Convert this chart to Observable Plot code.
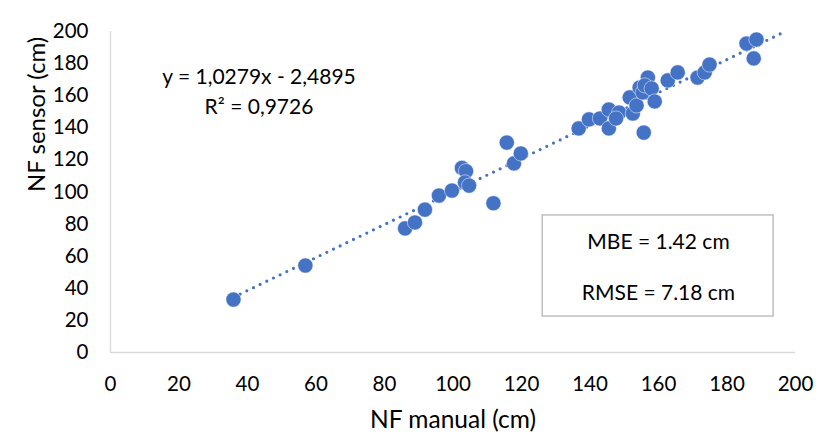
<!DOCTYPE html>
<html>
<head>
<meta charset="utf-8">
<script src="https://cdn.jsdelivr.net/npm/d3@7"></script>
<script src="https://cdn.jsdelivr.net/npm/@observablehq/plot@0.6"></script>
<style>
  html, body { margin: 0; padding: 0; background: #fff; }
  svg { display: block; }
</style>
</head>
<body>
<div id="chart"></div>
<script>
// NF manual (cm)
const manual = [35.9, 56.9, 86.0, 88.9, 91.8, 95.9, 99.7, 102.6, 103.8, 103.5, 104.7,
  111.8, 115.7, 117.8, 119.8, 136.7, 139.7, 142.9, 145.5, 145.5, 148.5, 147.6,
  151.6, 152.5, 153.6, 154.5, 155.4, 156.9, 156.0, 158.0, 158.9, 155.7, 162.7,
  165.6, 171.4, 173.5, 174.9, 185.7, 188.6, 187.8];
// NF sensor (cm)
const sensor = [33.0, 54.2, 77.3, 81.0, 89.0, 97.8, 100.9, 115.0, 113.0, 106.0, 104.0,
  93.0, 130.8, 117.8, 124.0, 139.6, 145.2, 145.8, 151.4, 139.6, 149.5, 145.8,
  158.9, 148.9, 153.9, 165.0, 162.0, 171.3, 166.4, 164.5, 156.4, 137.0, 169.5,
  174.5, 171.3, 174.5, 179.4, 192.5, 195.0, 183.2];
const xTicks = [0, 20, 40, 60, 80, 100, 120, 140, 160, 180, 200];
const yTicks = [0, 20, 40, 60, 80, 100, 120, 140, 160, 180, 200];
const slope = 1.0279, intercept = -2.4895;
const trendX = [35.9, 197];
const equationLabels = ["y = 1,0279x - 2,4895", "R² = 0,9726"];
const statLabels = ["MBE = 1.42 cm", "RMSE = 7.18 cm"];

const points = manual.map((m, i) => ({x: m, y: sensor[i]}));
const trend = trendX.map(x => ({x, y: slope * x + intercept}));

const font = "Lato, 'Open Sans', sans-serif";
const blue = "#4472C4";

const chart = Plot.plot({
  width: 816,
  height: 434,
  marginLeft: 110,
  marginRight: 21,
  marginTop: 31,
  marginBottom: 82,
  style: {fontFamily: font, fontSize: "20px", color: "#000", background: "#fff"},
  x: {domain: [0, 200]},
  y: {domain: [0, 200]},
  marks: [
    Plot.ruleY([0], {stroke: "#d9d9d9", strokeWidth: 1.3}),
    Plot.ruleX([0], {stroke: "#d9d9d9", strokeWidth: 1.3}),
    Plot.axisX({ticks: xTicks, tickSize: 0, tickPadding: 24, label: null, fontSize: 20.5, fill: "#000"}),
    Plot.axisY({ticks: yTicks, tickSize: 0, tickPadding: 22, label: null, fontSize: 20.5, fill: "#000"}),
    Plot.text(["NF manual (cm)"], {frameAnchor: "bottom", lineAnchor: "middle", dy: 68, fontSize: 24.5, fill: "#000"}),
    Plot.text(["NF sensor (cm)"], {frameAnchor: "left", lineAnchor: "middle", dx: -73, rotate: -90, fontSize: 24, fill: "#000"}),
    Plot.line(trend, {x: "x", y: "y", stroke: blue, strokeWidth: 3.2, strokeDasharray: "0 7.4", strokeLinecap: "round"}),
    Plot.dot(points, {x: "x", y: "y", r: 7.6, fill: blue, stroke: "#ffffff", strokeWidth: 0.5}),
    Plot.text([equationLabels[0]], {frameAnchor: "top-left", textAnchor: "middle", lineAnchor: "middle", dx: 148.5, dy: 46, fontSize: 21, fill: "#000"}),
    Plot.text([equationLabels[1]], {frameAnchor: "top-left", textAnchor: "middle", lineAnchor: "middle", dx: 148.5, dy: 76, fontSize: 21, fill: "#000"}),
    Plot.rect([{x1: 126.2, x2: 193.6, y1: 22.4, y2: 85.4}], {x1: "x1", x2: "x2", y1: "y1", y2: "y2", fill: "#fff", stroke: "#bfbfbf", strokeWidth: 1.5}),
    Plot.text([{x: 160, y: 68.5, t: statLabels[0]}, {x: 160, y: 36.8, t: statLabels[1]}], {x: "x", y: "y", text: "t", fontSize: 21, fill: "#000"})
  ]
});
document.getElementById("chart").appendChild(chart);
</script>
</body>
</html>
